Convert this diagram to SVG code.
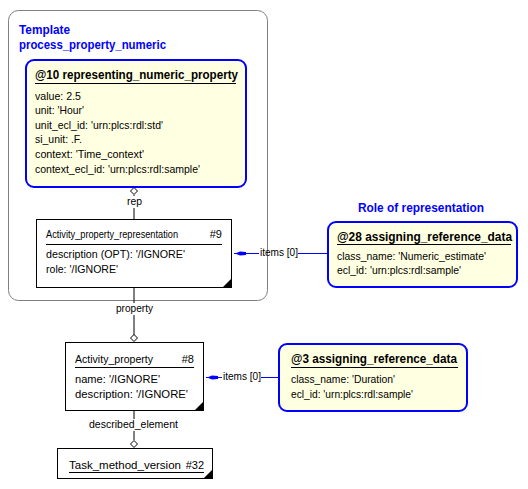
<svg xmlns="http://www.w3.org/2000/svg" width="528" height="489" viewBox="0 0 528 489">
<style>
text{font-family:"Liberation Sans",Arial,sans-serif;font-size:11px;fill:#000}
.hdr{font-weight:bold;font-size:12px;fill:#0000ff}
.ttl{font-weight:bold;font-size:12px}
.tpl{fill:none;stroke:#808080;stroke-width:1}
.ref{fill:#ffffe1;stroke:#0000ff;stroke-width:2}
.ent{fill:#fff;stroke:#000;stroke-width:1}
.ul{stroke:#000;stroke-width:1}
.con{stroke:#000;stroke-width:1;fill:none}
.bcon{stroke:#0000ff;stroke-width:1;fill:none}
.dia{fill:#fff;stroke:#000;stroke-width:1}
.lbl{text-anchor:middle}
</style>
<rect width="528" height="489" fill="#fff"/>
<g id="template">
<rect class="tpl" x="8.5" y="10.5" width="259" height="290" rx="10"/>
<text class="hdr" x="19" y="34" textLength="51" lengthAdjust="spacingAndGlyphs">Template</text>
<text class="hdr" x="19" y="49" textLength="147" lengthAdjust="spacingAndGlyphs">process_property_numeric</text>
</g>
<g id="connectors">
<line class="con" x1="134" y1="195" x2="134" y2="219"/>
<path class="dia" d="M134,187.5 L137.5,191 L134,194.5 L130.5,191 Z"/>
<rect x="124" y="196" width="20" height="12" fill="#fff"/>
<text x="127" y="205" textLength="15" lengthAdjust="spacingAndGlyphs">rep</text>
<line class="con" x1="134" y1="288" x2="134" y2="339"/>
<path class="dia" d="M134,334.5 L137.5,338 L134,341.5 L130.5,338 Z"/>
<rect x="114" y="303" width="41" height="12" fill="#fff"/>
<text x="116" y="312" textLength="37" lengthAdjust="spacingAndGlyphs">property</text>
<line class="con" x1="134" y1="411" x2="134" y2="440"/>
<path class="dia" d="M134,440.5 L137.5,444 L134,447.5 L130.5,444 Z"/>
<rect x="87" y="419" width="93" height="12" fill="#fff"/>
<text x="89" y="428" textLength="89" lengthAdjust="spacingAndGlyphs">described_element</text>
<line class="bcon" x1="234" y1="253.5" x2="259" y2="253.5"/>
<line class="bcon" x1="298" y1="253.5" x2="328" y2="253.5"/>
<path d="M235,253.5 L240,251.5 L246,252 L246,255 L240,255.5 Z" fill="#0000ff"/>
<text x="260" y="256" textLength="38" lengthAdjust="spacingAndGlyphs">items [0]</text>
<line class="bcon" x1="206" y1="377.5" x2="222" y2="377.5"/>
<path d="M207,377.5 L212,375.5 L218,376 L218,379 L212,379.5 Z" fill="#0000ff"/>
<line class="bcon" x1="261" y1="377.5" x2="279" y2="377.5"/>
<text x="223" y="380" textLength="38" lengthAdjust="spacingAndGlyphs">items [0]</text>
</g>
<g id="n10">
<rect class="ref" x="26" y="60" width="220" height="127" rx="8"/>
<text class="ttl" x="35" y="79" textLength="203" lengthAdjust="spacingAndGlyphs">@10 representing_numeric_property</text>
<line class="ul" x1="35" y1="83.5" x2="236" y2="83.5"/>
<text x="35" y="100" textLength="46" lengthAdjust="spacingAndGlyphs">value: 2.5</text>
<text x="35" y="114" textLength="49" lengthAdjust="spacingAndGlyphs">unit: 'Hour'</text>
<text x="35" y="129" textLength="128" lengthAdjust="spacingAndGlyphs">unit_ecl_id: 'urn:plcs:rdl:std'</text>
<text x="35" y="143" textLength="47" lengthAdjust="spacingAndGlyphs">si_unit: .F.</text>
<text x="35" y="158" textLength="109" lengthAdjust="spacingAndGlyphs">context: 'Time_context'</text>
<text x="35" y="173" textLength="165" lengthAdjust="spacingAndGlyphs">context_ecl_id: 'urn:plcs:rdl:sample'</text>
</g>
<g id="n9">
<rect class="ent" x="36.5" y="219.5" width="195" height="68"/>
<path d="M232,278 L232,288 L222,288 Z" fill="#000"/>
<text x="46" y="238" textLength="132" lengthAdjust="spacingAndGlyphs">Activity_property_representation</text>
<text x="222" y="238" text-anchor="end">#9</text>
<line class="ul" x1="46" y1="244.5" x2="222" y2="244.5"/>
<text x="46" y="258" textLength="139" lengthAdjust="spacingAndGlyphs">description (OPT): '/IGNORE'</text>
<text x="46" y="273" textLength="72" lengthAdjust="spacingAndGlyphs">role: '/IGNORE'</text>
</g>
<g id="n28">
<text class="hdr" x="358" y="212" textLength="126" lengthAdjust="spacingAndGlyphs">Role of representation</text>
<rect class="ref" x="328" y="222" width="189" height="65" rx="8"/>
<text class="ttl" x="337" y="241" textLength="175" lengthAdjust="spacingAndGlyphs">@28 assigning_reference_data</text>
<line class="ul" x1="337" y1="244.5" x2="511" y2="244.5"/>
<text x="337" y="260" textLength="149" lengthAdjust="spacingAndGlyphs">class_name: 'Numeric_estimate'</text>
<text x="337" y="274" textLength="124" lengthAdjust="spacingAndGlyphs">ecl_id: 'urn:plcs:rdl:sample'</text>
</g>
<g id="n8">
<rect class="ent" x="65.5" y="342.5" width="138" height="68"/>
<path d="M204,401 L204,411 L194,411 Z" fill="#000"/>
<text x="75" y="363" textLength="78" lengthAdjust="spacingAndGlyphs">Activity_property</text>
<text x="194" y="363" text-anchor="end">#8</text>
<line class="ul" x1="75" y1="367.5" x2="194" y2="367.5"/>
<text x="75" y="383" textLength="85" lengthAdjust="spacingAndGlyphs">name: '/IGNORE'</text>
<text x="75" y="398" textLength="113" lengthAdjust="spacingAndGlyphs">description: '/IGNORE'</text>
</g>
<g id="n3">
<rect class="ref" x="279" y="344" width="188" height="67" rx="8"/>
<text class="ttl" x="291" y="363" textLength="166" lengthAdjust="spacingAndGlyphs">@3 assigning_reference_data</text>
<line class="ul" x1="291" y1="367.5" x2="458" y2="367.5"/>
<text x="291" y="383" textLength="104" lengthAdjust="spacingAndGlyphs">class_name: 'Duration'</text>
<text x="291" y="398" textLength="122" lengthAdjust="spacingAndGlyphs">ecl_id: 'urn:plcs:rdl:sample'</text>
</g>
<g id="n32">
<rect class="ent" x="57.5" y="448.5" width="155" height="30"/>
<path d="M213,469 L213,479 L203,479 Z" fill="#000"/>
<text x="69" y="469" textLength="112" lengthAdjust="spacingAndGlyphs">Task_method_version</text>
<text x="204" y="469" text-anchor="end">#32</text>
<line class="ul" x1="69" y1="472.5" x2="204" y2="472.5"/>
</g>
</svg>
